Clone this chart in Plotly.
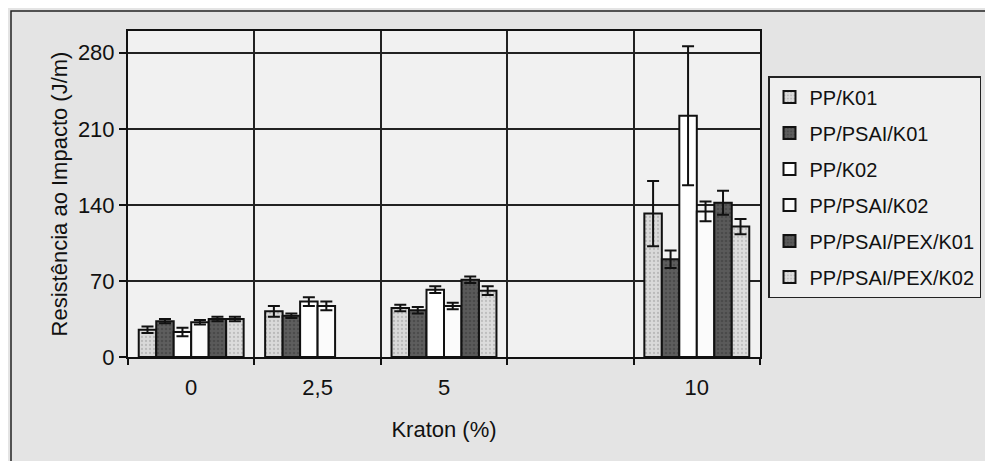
import plotly.graph_objects as go

categories = ["0", "2,5", "5", " ", "10"]
series_names = ["PP/K01", "PP/PSAI/K01", "PP/K02", "PP/PSAI/K02", "PP/PSAI/PEX/K01", "PP/PSAI/PEX/K02"]

pp_k01 = [25, 42, 45, None, 132]
pp_k01_err = [3, 5, 3, None, 30]
pp_psai_k01 = [33, 38, 43, None, 90]
pp_psai_k01_err = [2, 2, 3, None, 8]
pp_k02 = [23, 51, 62, None, 222]
pp_k02_err = [4, 4, 3, None, 64]
pp_psai_k02 = [32, 47, 47, None, 134]
pp_psai_k02_err = [2, 4, 3, None, 9]
pp_psai_pex_k01 = [35, None, 71, None, 142]
pp_psai_pex_k01_err = [2, None, 3, None, 11]
pp_psai_pex_k02 = [35, None, 61, None, 120]
pp_psai_pex_k02_err = [2, None, 4, None, 7]

values = [pp_k01, pp_psai_k01, pp_k02, pp_psai_k02, pp_psai_pex_k01, pp_psai_pex_k02]
errors = [pp_k01_err, pp_psai_k01_err, pp_k02_err, pp_psai_k02_err, pp_psai_pex_k01_err, pp_psai_pex_k02_err]

styles = [
    dict(color="#d9d9d9", pattern=dict(shape=".", fgcolor="#9a9a9a", size=4, solidity=0.25)),
    dict(color="#5e5e5e", pattern=dict(shape=".", fgcolor="#3a3a3a", size=4, solidity=0.3)),
    dict(color="#ffffff"),
    dict(color="#fbfbfb"),
    dict(color="#5a5a5a", pattern=dict(shape=".", fgcolor="#3a3a3a", size=4, solidity=0.3)),
    dict(color="#dcdcdc", pattern=dict(shape=".", fgcolor="#a0a0a0", size=4, solidity=0.25)),
]

FONT = "Liberation Sans, Arial, sans-serif"
FS = 22
LFS = 20

fig = go.Figure()
for name, vals, errs, st in zip(series_names, values, errors, styles):
    marker = dict(color=st["color"], line=dict(color="#111111", width=2))
    if "pattern" in st:
        marker["pattern"] = st["pattern"]
    fig.add_trace(go.Bar(
        x=categories, y=vals, name=name, legendgroup=name,
        marker=marker,
        error_y=dict(type="data", array=errs, visible=True, color="#111111", thickness=2, width=6),
    ))

# page has an 8px body margin; figure is sized to fit in the 993x469 window
OFF = 8
W, H = 977, 453
PL, PR, PT, PB = 128, 760, 31, 357  # plot area in page pixels
L, T = PL - OFF, PT - OFF
R, B = (OFF + W) - PR, (OFF + H) - PB
pw, ph = PR - PL, PB - PT

def px_x(x):
    return (x - PL) / pw

def px_y(y):
    return (PB - y) / ph

def cx(x):
    return (x - OFF) / W

def cy(y):
    return 1 - (y - OFF) / H

fig.update_layout(
    width=W, height=H,
    margin=dict(l=L, r=R, t=T, b=B, autoexpand=False),
    paper_bgcolor="#e4e4e4",
    plot_bgcolor="#f1f1f1",
    barmode="group",
    bargap=0.17,
    bargroupgap=0,
    font=dict(family=FONT, size=FS, color="#111111"),
    showlegend=True,
    legend=dict(
        xref="container", yref="container",
        x=cx(768), y=cy(76), xanchor="left", yanchor="top",
        bordercolor="#222222", borderwidth=1.5, bgcolor="#efefef",
        font=dict(family=FONT, size=LFS, color="#111111"),
        tracegroupgap=7, traceorder="grouped",
    ),
    xaxis=dict(
        type="category", categoryorder="array", categoryarray=categories,
        tickson="boundaries", showgrid=True, gridcolor="#222222", gridwidth=1.5,
        showline=True, linecolor="#111111", linewidth=2, mirror=True,
        ticks="outside", ticklen=6, tickcolor="#111111", tickwidth=1.5,
        ticklabelstandoff=10,
        title=dict(text="Kraton (%)", font=dict(family=FONT, size=FS), standoff=22),
        range=[-0.5, 4.5],
    ),
    yaxis=dict(
        range=[0, 300], tick0=0, dtick=70,
        showgrid=True, gridcolor="#222222", gridwidth=1.5,
        showline=True, linecolor="#111111", linewidth=2, mirror=True,
        ticks="outside", ticklen=7, tickcolor="#111111", tickwidth=1.5,
        zeroline=False,
        title=dict(text="Resistência ao Impacto (J/m)", font=dict(family=FONT, size=FS), standoff=4),
    ),
    shapes=[dict(
        type="rect", xref="paper", yref="paper",
        x0=px_x(11), x1=px_x(1000), y0=px_y(480), y1=px_y(11),
        line=dict(color="#222222", width=1.5), fillcolor="rgba(0,0,0,0)", layer="below",
    )],
)

fig.write_html("out.html")
